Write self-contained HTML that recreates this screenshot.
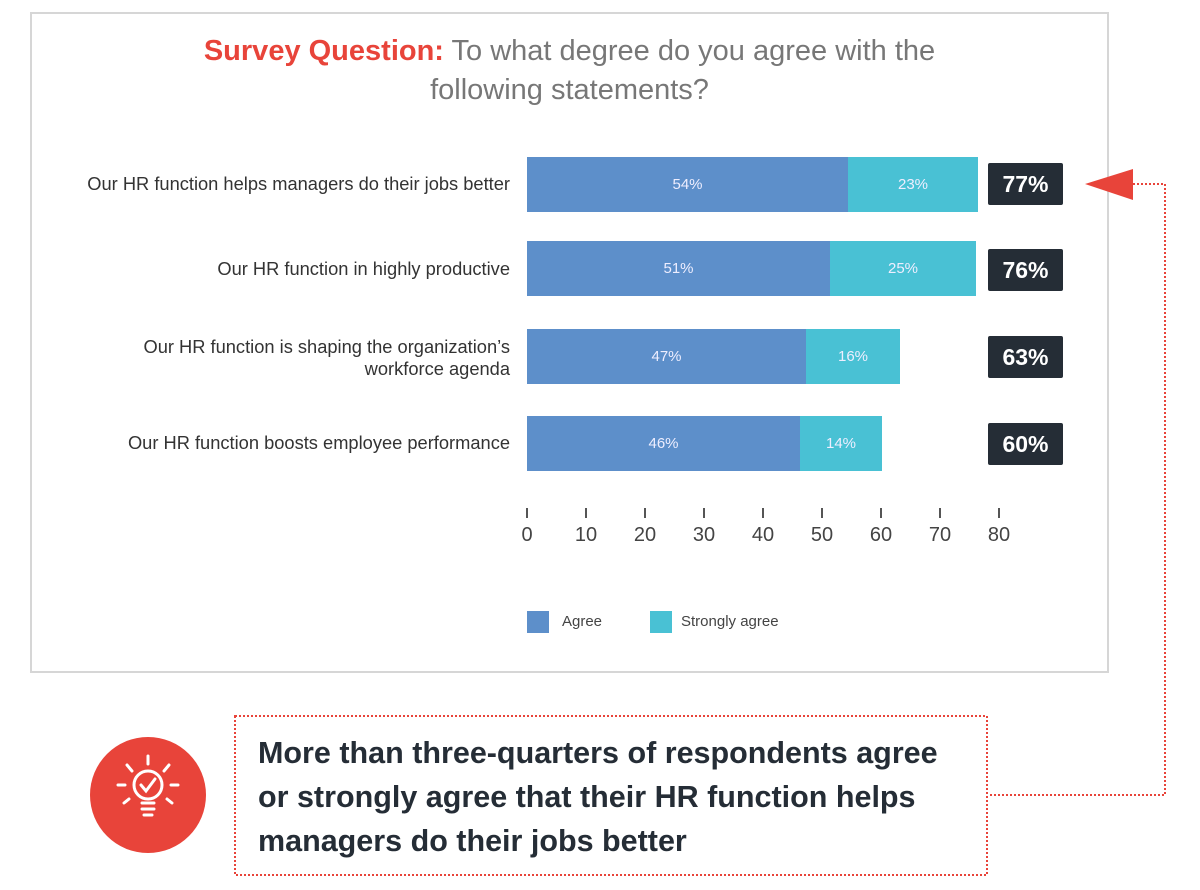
<!DOCTYPE html>
<html><head><meta charset="utf-8"><style>
body{margin:0;width:1200px;height:890px;background:#fff;font-family:"Liberation Sans",sans-serif;position:relative;overflow:hidden}
.a{position:absolute}
.frame{left:30px;top:12px;width:1079px;height:661px;border:2px solid #d6d6d6;box-sizing:border-box}
.title{left:30px;width:1079px;top:32px;text-align:center;font-size:29px;color:#777;line-height:39px}
.lbl{right:690px;text-align:right;font-size:18.3px;color:#333;line-height:22px}
.bar{height:55px;color:#eef;font-size:15px;display:flex;align-items:center;justify-content:center}
.ag{background:#5d8fca}.sa{background:#49c1d4}
.tot{left:988px;width:75px;height:42px;background:#252d36;color:#fff;font-weight:bold;font-size:23px;display:flex;align-items:center;justify-content:center;border-radius:2px}
.tick{width:2px;height:10px;background:#555;top:508px}
.tl{top:524px;font-size:20px;color:#444;width:40px;text-align:center}
</style></head><body>
<div class="a frame"></div>
<div class="a title"><span style="color:#e8443a;font-weight:bold">Survey Question:</span> To what degree do you agree with the<br>following statements?</div>

<div class="a lbl" style="top:173px">Our HR function helps managers do their jobs better</div>
<div class="a lbl" style="top:258px">Our HR function in highly productive</div>
<div class="a lbl" style="top:336px">Our HR function is shaping the organization’s<br>workforce agenda</div>
<div class="a lbl" style="top:432px">Our HR function boosts employee performance</div>

<div class="a bar ag" style="left:527px;top:157px;width:321px">54%</div>
<div class="a bar sa" style="left:848px;top:157px;width:130px">23%</div>
<div class="a bar ag" style="left:527px;top:241px;width:303px">51%</div>
<div class="a bar sa" style="left:830px;top:241px;width:146px">25%</div>
<div class="a bar ag" style="left:527px;top:329px;width:279px">47%</div>
<div class="a bar sa" style="left:806px;top:329px;width:94px">16%</div>
<div class="a bar ag" style="left:527px;top:416px;width:273px">46%</div>
<div class="a bar sa" style="left:800px;top:416px;width:82px">14%</div>

<div class="a tot" style="top:163px">77%</div>
<div class="a tot" style="top:249px">76%</div>
<div class="a tot" style="top:336px">63%</div>
<div class="a tot" style="top:423px">60%</div>

<div class="a tick" style="left:526px"></div><div class="a tl" style="left:507px">0</div>
<div class="a tick" style="left:585px"></div><div class="a tl" style="left:566px">10</div>
<div class="a tick" style="left:644px"></div><div class="a tl" style="left:625px">20</div>
<div class="a tick" style="left:703px"></div><div class="a tl" style="left:684px">30</div>
<div class="a tick" style="left:762px"></div><div class="a tl" style="left:743px">40</div>
<div class="a tick" style="left:821px"></div><div class="a tl" style="left:802px">50</div>
<div class="a tick" style="left:880px"></div><div class="a tl" style="left:861px">60</div>
<div class="a tick" style="left:939px"></div><div class="a tl" style="left:920px">70</div>
<div class="a tick" style="left:998px"></div><div class="a tl" style="left:979px">80</div>

<div class="a ag" style="left:527px;top:611px;width:22px;height:22px"></div>
<div class="a" style="left:562px;top:613px;font-size:15px;color:#444">Agree</div>
<div class="a sa" style="left:650px;top:611px;width:22px;height:22px"></div>
<div class="a" style="left:681px;top:613px;font-size:15px;color:#444">Strongly agree</div>

<svg class="a" style="left:0;top:0" width="1200" height="890">
<polygon points="1085,184 1133,169 1133,200" fill="#e8443a"/>
<polyline points="1133,184 1165,184 1165,795 988,795" fill="none" stroke="#e8443a" stroke-width="2" stroke-dasharray="2,2"/>
<rect x="235" y="716" width="752" height="159" fill="none" stroke="#e8443a" stroke-width="2" stroke-dasharray="2,2"/>
<circle cx="148" cy="795" r="58" fill="#e8443a"/>
<g stroke="#fff" stroke-width="3" fill="none" stroke-linecap="round">
<circle cx="148" cy="785" r="14"/>
<polyline points="141,785 146,791 155,779"/>
<line x1="142" y1="803" x2="154" y2="803"/><line x1="142" y1="809" x2="154" y2="809"/><line x1="144" y1="815" x2="152" y2="815"/>
<line x1="148" y1="756" x2="148" y2="764"/><line x1="127" y1="765" x2="132" y2="771"/><line x1="169" y1="765" x2="164" y2="771"/>
<line x1="118" y1="785" x2="125" y2="785"/><line x1="178" y1="785" x2="171" y2="785"/>
<line x1="124" y1="803" x2="129" y2="799"/><line x1="172" y1="803" x2="167" y2="799"/>
</g>
</svg>
<div class="a" style="left:258px;top:731px;font-size:30.5px;font-weight:bold;color:#252d36;line-height:44px">More than three-quarters of respondents agree<br>or strongly agree that their HR function helps<br>managers do their jobs better</div>
</body></html>
